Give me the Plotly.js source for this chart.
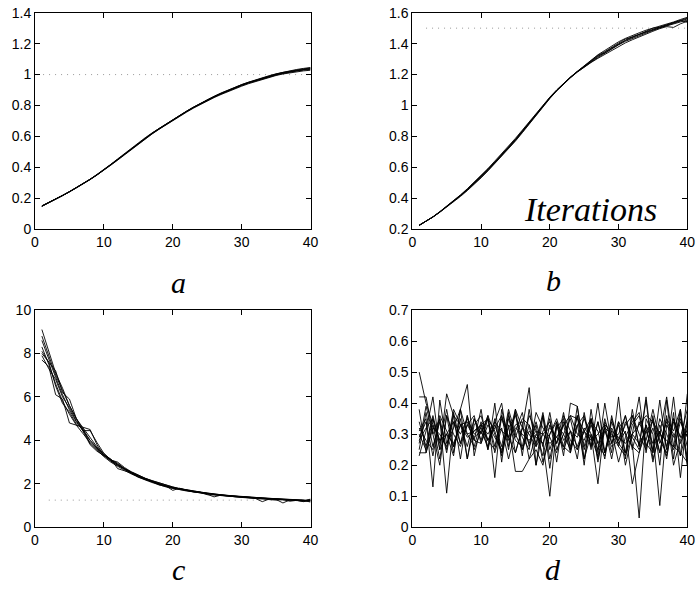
<!DOCTYPE html>
<html><head><meta charset="utf-8">
<script src="https://cdn.plot.ly/plotly-3.0.1.min.js"></script>
<style>html,body{margin:0;padding:0;background:#fff}#chart{width:698px;height:589px}</style>
</head><body><div id="chart"></div>
<script>
const iterations = [1,2,3,4,5,6,7,8,9,10,11,12,13,14,15,16,17,18,19,20,21,22,23,24,25,26,27,28,29,30,31,32,33,34,35,36,37,38,39,40];

const seriesA = [
 [.150,.172,.195,.218,.243,.268,.294,.322,.352,.383,.417,.451,.486,.521,.556,.588,.619,.649,.678,.706,.734,.761,.787,.812,.836,.857,.877,.897,.915,.933,.948,.962,.976,.990,1.002,1.012,1.020,1.028,1.034,1.040],
 [.148,.170,.193,.217,.242,.268,.295,.324,.355,.386,.420,.455,.490,.525,.559,.592,.623,.652,.681,.709,.737,.764,.790,.815,.838,.860,.881,.900,.918,.935,.951,.966,.980,.993,1.005,1.016,1.025,1.033,1.040,1.046],
 [.152,.173,.196,.219,.244,.269,.295,.322,.351,.381,.414,.447,.482,.517,.552,.585,.616,.646,.675,.703,.730,.757,.783,.807,.830,.851,.871,.890,.908,.925,.941,.955,.969,.982,.994,1.004,1.012,1.019,1.024,1.028],
 [.150,.171,.194,.218,.243,.269,.296,.324,.353,.384,.418,.452,.487,.522,.557,.590,.621,.651,.680,.708,.736,.763,.789,.813,.837,.858,.879,.899,.917,.935,.950,.964,.978,.991,1.003,1.014,1.023,1.030,1.037,1.042],
 [.149,.171,.194,.217,.242,.267,.293,.321,.351,.382,.415,.449,.484,.519,.554,.587,.618,.648,.677,.705,.733,.760,.786,.810,.833,.855,.875,.894,.912,.929,.945,.959,.972,.985,.997,1.007,1.016,1.023,1.029,1.034],
 [.151,.172,.195,.218,.243,.268,.294,.323,.353,.384,.417,.451,.485,.520,.555,.589,.621,.650,.679,.707,.735,.762,.788,.812,.835,.856,.876,.896,.914,.931,.947,.961,.975,.988,.999,1.009,1.018,1.026,1.032,1.036]
];

const seriesB = [
 [.226,.252,.280,.312,.346,.381,.417,.456,.497,.540,.585,.632,.680,.729,.778,.832,.887,.942,.997,1.050,1.098,1.142,1.182,1.219,1.253,1.285,1.316,1.345,1.372,1.398,1.420,1.440,1.458,1.474,1.488,1.502,1.516,1.530,1.545,1.560],
 [.224,.251,.281,.314,.349,.385,.422,.462,.504,.548,.593,.641,.689,.738,.788,.841,.895,.949,1.003,1.054,1.101,1.145,1.184,1.221,1.256,1.290,1.328,1.356,1.386,1.412,1.434,1.454,1.470,1.487,1.500,1.510,1.522,1.540,1.556,1.570],
 [.227,.252,.279,.310,.343,.377,.412,.450,.490,.532,.577,.624,.672,.721,.770,.824,.880,.936,.991,1.045,1.094,1.139,1.179,1.216,1.250,1.278,1.305,1.330,1.358,1.384,1.405,1.425,1.445,1.462,1.480,1.497,1.510,1.505,1.528,1.545],
 [.225,.251,.280,.313,.347,.383,.420,.459,.500,.543,.588,.635,.683,.732,.782,.836,.890,.945,.999,1.051,1.099,1.143,1.183,1.220,1.254,1.288,1.320,1.340,1.368,1.395,1.422,1.445,1.462,1.478,1.495,1.508,1.522,1.538,1.552,1.565],
 [.226,.252,.279,.311,.345,.379,.415,.453,.494,.536,.581,.628,.676,.725,.774,.828,.883,.939,.994,1.047,1.096,1.140,1.180,1.217,1.251,1.280,1.310,1.338,1.365,1.392,1.415,1.434,1.452,1.469,1.486,1.502,1.516,1.528,1.540,1.552],
 [.226,.252,.280,.312,.346,.381,.418,.457,.498,.541,.586,.633,.681,.730,.779,.833,.888,.943,.998,1.050,1.098,1.142,1.182,1.219,1.253,1.286,1.325,1.348,1.378,1.404,1.430,1.442,1.460,1.478,1.500,1.506,1.520,1.536,1.550,1.538]
];

const seriesC = [
 [9.1,8.1,7.1,6.4,5.6,5.0,4.5,4.0,3.65,3.35,3.1,2.9,2.7,2.5,2.35,2.22,2.1,2.0,1.9,1.82,1.76,1.7,1.65,1.6,1.55,1.51,1.48,1.45,1.42,1.4,1.37,1.35,1.33,1.31,1.3,1.28,1.26,1.25,1.24,1.22],
 [7.7,7.4,6.1,5.9,4.8,4.7,4.6,4.5,3.8,3.3,3.1,3.0,2.75,2.55,2.4,2.25,2.15,2.05,1.92,1.85,1.78,1.72,1.68,1.62,1.58,1.53,1.5,1.47,1.44,1.41,1.39,1.37,1.35,1.33,1.31,1.3,1.28,1.27,1.25,1.24],
 [8.0,7.6,7.2,6.2,5.9,5.0,4.4,3.8,3.5,3.3,3.15,2.7,2.6,2.5,2.3,2.2,2.08,1.98,1.9,1.7,1.8,1.7,1.64,1.58,1.52,1.4,1.48,1.44,1.4,1.39,1.36,1.33,1.18,1.3,1.28,1.12,1.26,1.24,1.18,1.24],
 [8.6,7.7,6.9,6.1,5.4,4.85,4.4,4.0,3.65,3.35,3.05,2.85,2.68,2.5,2.37,2.24,2.12,2.0,1.9,1.83,1.75,1.7,1.65,1.6,1.56,1.52,1.48,1.45,1.43,1.41,1.38,1.36,1.33,1.31,1.29,1.27,1.25,1.24,1.23,1.22],
 [8.3,7.5,6.6,5.8,5.2,4.7,4.3,3.9,3.6,3.3,3.05,2.85,2.65,2.48,2.33,2.2,2.09,1.98,1.9,1.8,1.74,1.69,1.64,1.59,1.55,1.5,1.47,1.44,1.42,1.39,1.37,1.34,1.32,1.3,1.28,1.26,1.25,1.23,1.22,1.2],
 [7.9,7.3,6.8,6.0,5.5,4.9,4.45,4.45,3.9,3.4,3.1,2.95,2.7,2.52,2.38,2.2,2.1,1.95,1.88,1.78,1.77,1.72,1.62,1.62,1.5,1.48,1.45,1.46,1.4,1.38,1.35,1.32,1.3,1.3,1.25,1.27,1.2,1.24,1.2,1.3],
 [8.8,7.9,7.0,6.3,5.6,5.0,4.55,4.1,3.7,3.4,3.12,2.9,2.7,2.55,2.4,2.26,2.14,2.04,1.93,1.86,1.78,1.72,1.66,1.61,1.57,1.53,1.49,1.46,1.43,1.4,1.38,1.35,1.33,1.32,1.3,1.28,1.27,1.25,1.24,1.16],
 [8.1,7.6,6.5,5.7,5.3,4.75,4.5,3.85,3.55,3.25,3.0,2.8,2.62,2.45,2.3,2.18,2.06,1.96,1.86,1.8,1.73,1.67,1.63,1.58,1.53,1.49,1.46,1.43,1.41,1.38,1.36,1.33,1.31,1.29,1.27,1.25,1.23,1.22,1.21,1.28]
];

const seriesD = [
 [.50,.40,.33,.28,.30,.27,.33,.29,.31,.33,.30,.34,.31,.29,.32,.30,.28,.31,.30,.27,.29,.33,.36,.35,.31,.28,.30,.33,.31,.29,.27,.30,.33,.36,.34,.30,.28,.26,.24,.21],
 [.42,.42,.30,.20,.36,.24,.38,.46,.23,.33,.25,.40,.21,.37,.24,.32,.45,.20,.36,.19,.34,.23,.40,.39,.22,.35,.21,.33,.24,.42,.22,.38,.26,.42,.24,.41,.25,.42,.23,.43],
 [.23,.31,.42,.25,.43,.36,.22,.36,.28,.38,.25,.34,.40,.26,.37,.23,.38,.26,.36,.22,.33,.30,.25,.36,.20,.38,.24,.40,.27,.34,.20,.30,.42,.24,.36,.20,.41,.22,.37,.20],
 [.31,.35,.13,.41,.27,.32,.38,.22,.35,.30,.36,.16,.38,.28,.33,.34,.22,.30,.27,.35,.21,.36,.31,.22,.37,.26,.40,.24,.35,.28,.33,.36,.26,.41,.22,.30,.42,.26,.38,.22],
 [.27,.39,.30,.35,.11,.34,.30,.35,.30,.32,.28,.33,.26,.38,.30,.25,.31,.29,.27,.10,.33,.25,.31,.29,.35,.30,.14,.34,.29,.30,.36,.27,.03,.35,.30,.07,.33,.29,.35,.26],
 [.34,.26,.36,.27,.38,.26,.33,.34,.28,.27,.35,.24,.32,.22,.31,.37,.26,.33,.21,.30,.34,.26,.24,.33,.36,.25,.34,.24,.32,.27,.31,.14,.24,.33,.21,.31,.23,.34,.29,.31],
 [.30,.25,.35,.28,.30,.23,.38,.30,.26,.34,.28,.32,.36,.25,.38,.32,.30,.26,.30,.32,.29,.26,.36,.30,.28,.34,.31,.22,.36,.26,.23,.30,.27,.31,.34,.24,.36,.20,.28,.34],
 [.38,.24,.33,.22,.36,.30,.26,.33,.29,.31,.26,.35,.23,.33,.18,.18,.22,.25,.20,.30,.35,.28,.31,.26,.32,.29,.23,.32,.30,.26,.34,.29,.25,.33,.27,.31,.22,.37,.16,.36],
 [.25,.37,.26,.34,.24,.36,.33,.26,.35,.28,.36,.30,.24,.35,.28,.26,.36,.31,.23,.33,.27,.37,.25,.33,.22,.30,.25,.35,.27,.33,.24,.36,.30,.25,.35,.27,.34,.30,.23,.32],
 [.32,.28,.25,.36,.31,.26,.35,.22,.33,.36,.28,.25,.35,.29,.38,.25,.33,.27,.37,.25,.32,.35,.26,.36,.25,.33,.27,.23,.34,.27,.24,.33,.36,.26,.32,.24,.35,.31,.38,.20],
 [.29,.34,.23,.35,.25,.37,.27,.33,.36,.27,.33,.29,.25,.32,.36,.29,.25,.37,.32,.29,.24,.34,.28,.25,.31,.35,.27,.32,.22,.34,.30,.26,.24,.31,.25,.35,.30,.25,.34,.29],
 [.28,.32,.35,.25,.30,.34,.27,.36,.25,.31,.35,.26,.36,.29,.24,.32,.27,.34,.26,.37,.25,.30,.35,.25,.31,.26,.34,.24,.31,.21,.29,.34,.37,.27,.24,.33,.26,.35,.27,.33],
 [.24,.24,.32,.30,.26,.38,.33,.30,.31,.33,.35,.31,.24,.36,.29,.35,.33,.20,.31,.34,.27,.33,.24,.39,.26,.35,.22,.31,.26,.28,.36,.25,.34,.28,.38,.28,.24,.35,.29,.38]
];

// dotted reference levels (panels a, b, c)
const refLevels = [1.0, 1.5, 1.25];
const refStart = [0.3, 2, 2];

const xTicks = [0,10,20,30,40];
const yTicksA = [0,0.2,0.4,0.6,0.8,1,1.2,1.4];
const yTickTextA = ['0','0.2','0.4','0.6','0.8','1','1.2','1.4'];
const yTicksB = [0.2,0.4,0.6,0.8,1,1.2,1.4,1.6];
const yTickTextB = ['0.2','0.4','0.6','0.8','1','1.2','1.4','1.6'];
const yTicksC = [0,2,4,6,8,10];
const yTicksD = [0,0.1,0.2,0.3,0.4,0.5,0.6,0.7];
const yTickTextD = ['0','0.1','0.2','0.3','0.4','0.5','0.6','0.7'];
const panelLabels = ['a','b','c','d'];
const insideText = 'Iterations';

const W = 698, H = 589;
const traces = [];
function addSeries(list, xa, ya){
  list.forEach(s => traces.push({x: iterations, y: s, xaxis: xa, yaxis: ya, type:'scatter', mode:'lines',
    line:{color:'#000', width:0.9}, hoverinfo:'skip', showlegend:false}));
}
function addRef(i, xa, ya){
  traces.push({x:[refStart[i], 40], y:[refLevels[i], refLevels[i]], xaxis:xa, yaxis:ya, type:'scatter', mode:'lines',
    line:{color:'#999', width:1, dash:'1px,5px'}, hoverinfo:'skip', showlegend:false});
}
addRef(0,'x','y'); addRef(1,'x2','y2'); addRef(2,'x3','y3');
addSeries(seriesA,'x','y');
addSeries(seriesB,'x2','y2');
addSeries(seriesC,'x3','y3');
addSeries(seriesD,'x4','y4');

const tickFont = {family:'Liberation Sans, Arial, sans-serif', size:14, color:'#000'};
function xax(x0,x1,anchor){
  return {domain:[x0/W, x1/W], range:[0,40], anchor:anchor, tickvals:xTicks, ticktext:xTicks.map(String),
    ticks:'inside', ticklen:5, tickcolor:'#000', showline:true, linecolor:'#000', linewidth:1, mirror:'ticks',
    showgrid:false, zeroline:false, tickfont:tickFont, fixedrange:true};
}
function yax(top,bottom,range,vals,text,anchor){
  return {domain:[1-bottom/H, 1-top/H], range:range, anchor:anchor, tickvals:vals, ticktext:text,
    ticks:'inside', ticklen:5, tickcolor:'#000', showline:true, linecolor:'#000', linewidth:1, mirror:'ticks',
    showgrid:false, zeroline:false, tickfont:tickFont, fixedrange:true};
}
const labFont = {family:'Liberation Serif, Times New Roman, serif', size:30, color:'#000'};
const itFont = {family:'Liberation Serif, Times New Roman, serif', size:34, color:'#000'};
function lab(t, px, py, f){
  return {text:'<i>'+t+'</i>', x:px/W, y:1-py/H, xref:'paper', yref:'paper', showarrow:false, font:f,
    xanchor:'center', yanchor:'middle'};
}
const layout = {
  width:W, height:H, margin:{l:0,r:0,t:0,b:0}, paper_bgcolor:'#fff', plot_bgcolor:'#fff', showlegend:false,
  xaxis: xax(35,310.5,'y'),
  yaxis: yax(12.7,229.3,[0,1.4],yTicksA,yTickTextA,'x'),
  xaxis2: xax(412.3,687.3,'y2'),
  yaxis2: yax(12.7,229.3,[0.2,1.6],yTicksB,yTickTextB,'x2'),
  xaxis3: xax(35,310.5,'y3'),
  yaxis3: yax(310,527.3,[0,10],yTicksC,yTicksC.map(String),'x3'),
  xaxis4: xax(412.3,687.3,'y4'),
  yaxis4: yax(310,527.3,[0,0.7],yTicksD,yTickTextD,'x4'),
  annotations: [
    lab(panelLabels[0], 178, 282, labFont),
    lab(panelLabels[1], 553, 280, labFont),
    lab(panelLabels[2], 178, 569, labFont),
    lab(panelLabels[3], 553, 569, labFont),
    lab(insideText, 590, 209, itFont)
  ]
};
Plotly.newPlot('chart', traces, layout, {displayModeBar:false, staticPlot:true});
</script>
</body></html>
